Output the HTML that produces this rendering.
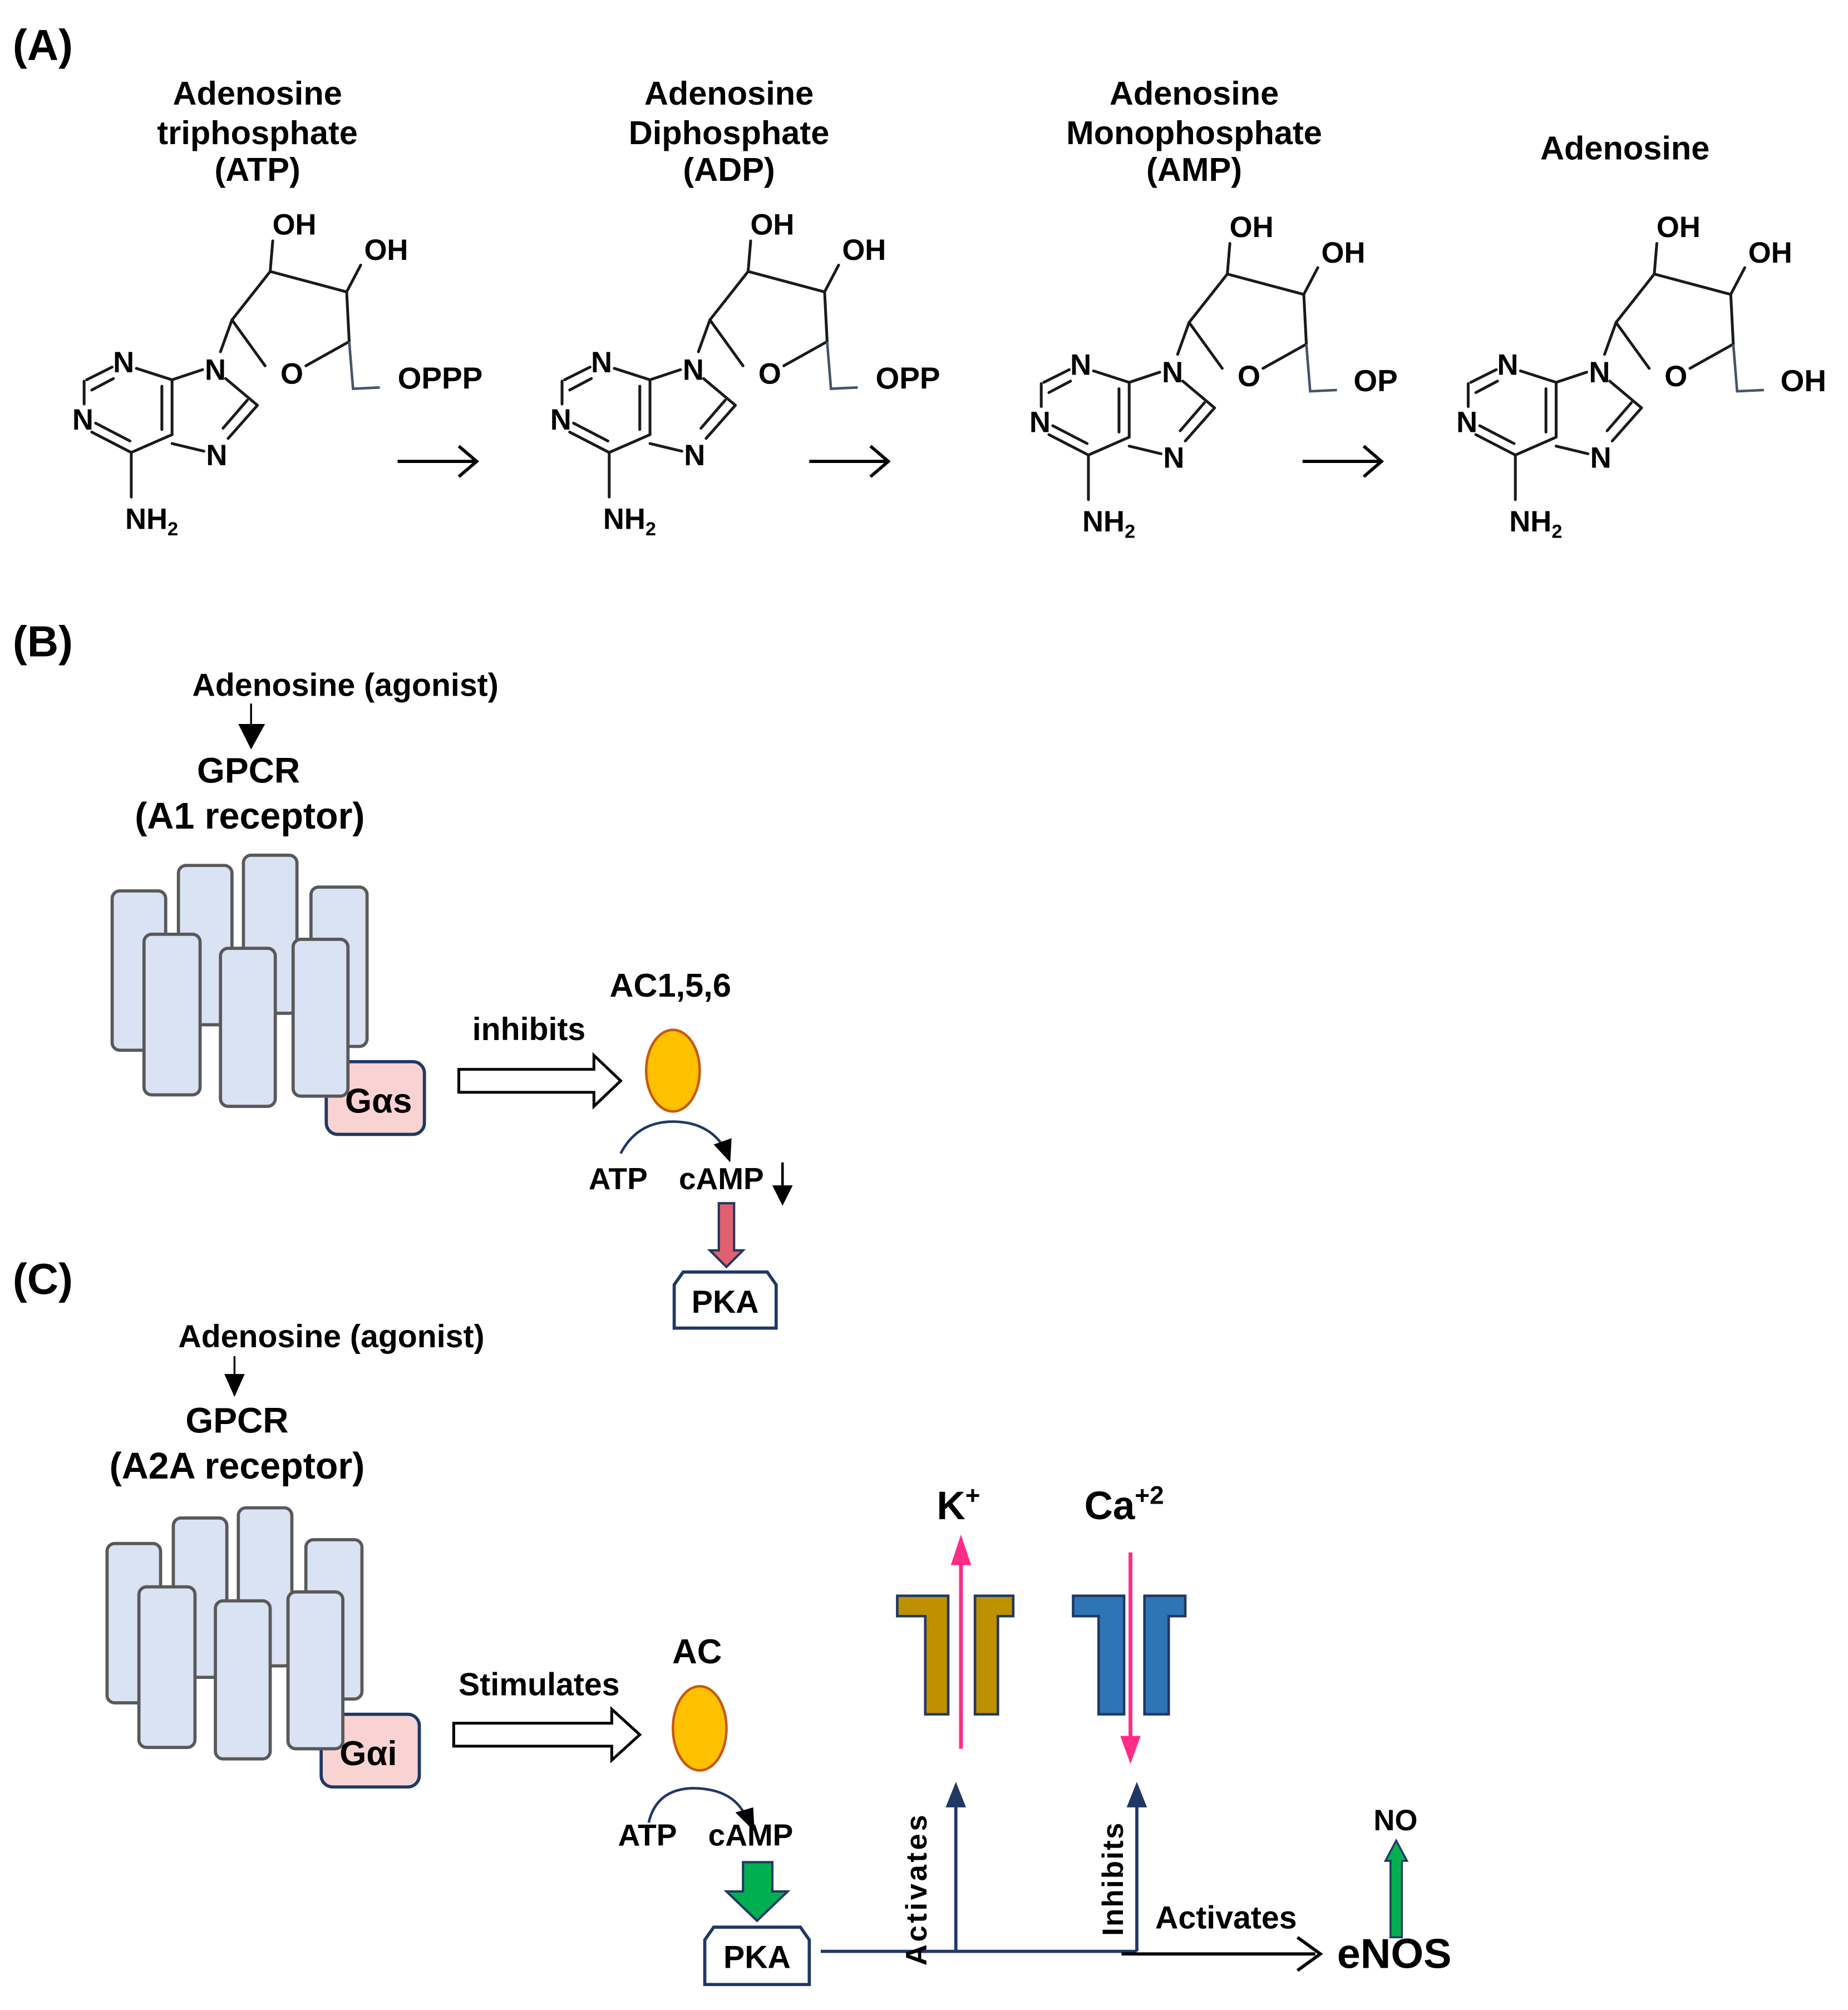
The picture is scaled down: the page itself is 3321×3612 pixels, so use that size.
<!DOCTYPE html>
<html><head><meta charset="utf-8"><style>
html,body{margin:0;padding:0;background:#fff;}
svg{display:block;}
text{font-family:"Liberation Sans",Arial,sans-serif;fill:#000;}
</style></head><body>
<svg width="3321" height="3612" viewBox="0 0 1450 1577" preserveAspectRatio="none" xmlns="http://www.w3.org/2000/svg">
<defs>
<g id="mol">
 <g stroke="#1a1a1a" stroke-width="2.2" fill="none" stroke-linecap="round">
  <line x1="68" y1="298" x2="88" y2="288"/>
  <line x1="72" y1="306" x2="89" y2="297"/>
  <line x1="107" y1="289" x2="135" y2="298"/>
  <line x1="66" y1="299" x2="66" y2="317"/>
  <line x1="72" y1="339" x2="103" y2="355"/>
  <line x1="75" y1="332" x2="102" y2="346"/>
  <line x1="103" y1="355" x2="135" y2="341"/>
  <line x1="135" y1="341" x2="135" y2="298"/>
  <line x1="127" y1="337" x2="127" y2="303"/>
  <line x1="103" y1="355" x2="103" y2="390"/>
  <line x1="135" y1="298" x2="159" y2="290"/>
  <line x1="177" y1="297" x2="202" y2="318"/>
  <line x1="202" y1="318" x2="179" y2="344"/>
  <line x1="194" y1="314" x2="175" y2="336"/>
  <line x1="160" y1="354" x2="135" y2="348"/>
  <line x1="173" y1="276" x2="182" y2="251"/>
  <line x1="182" y1="251" x2="212" y2="213"/>
  <line x1="212" y1="213" x2="214" y2="189"/>
  <line x1="212" y1="213" x2="272" y2="229"/>
  <line x1="272" y1="229" x2="283" y2="208"/>
  <line x1="272" y1="229" x2="274" y2="268"/>
  <line x1="274" y1="268" x2="240" y2="287"/>
  <line x1="182" y1="251" x2="208" y2="287"/>
 </g>
 <polyline points="274,268 277,305 298,304" stroke="#44546a" stroke-width="2" fill="none"/>
 <g font-size="23" text-anchor="middle" font-weight="bold">
  <text x="97" y="292">N</text>
  <text x="65" y="337">N</text>
  <text x="169" y="298">N</text>
  <text x="170" y="365">N</text>
  <text x="119" y="415">NH<tspan font-size="15" dy="5">2</tspan></text>
  <text x="231" y="184">OH</text>
  <text x="303" y="204">OH</text>
  <text x="229" y="301">O</text>
 </g>
</g>
<g id="rects" fill="#dae3f3" stroke="#595959" stroke-width="2.5">
 <rect x="88" y="699" width="42" height="125" rx="6"/>
 <rect x="140" y="679" width="42" height="125" rx="6"/>
 <rect x="191" y="671" width="42" height="124" rx="6"/>
 <rect x="244" y="696" width="44" height="125" rx="6"/>
 <rect x="113" y="733" width="44" height="126" rx="6"/>
 <rect x="173" y="744" width="43" height="124" rx="6"/>
 <rect x="230" y="737" width="43" height="123" rx="6"/>
</g>
</defs>

<text x="10" y="47" font-size="34" font-weight="bold">(A)</text>
<g font-size="26" font-weight="bold" text-anchor="middle">
 <text x="202" y="82">Adenosine</text><text x="202" y="113">triphosphate</text><text x="202" y="142">(ATP)</text>
 <text x="572" y="82">Adenosine</text><text x="572" y="113">Diphosphate</text><text x="572" y="142">(ADP)</text>
 <text x="937" y="82">Adenosine</text><text x="937" y="113">Monophosphate</text><text x="937" y="142">(AMP)</text>
 <text x="1275" y="125">Adenosine</text>
</g>
<use href="#mol"/>
<use href="#mol" transform="translate(375,0)"/>
<use href="#mol" transform="translate(751,2)"/>
<use href="#mol" transform="translate(1086,2)"/>
<g font-size="24" font-weight="bold">
 <text x="312" y="305">OPPP</text>
 <text x="687" y="305">OPP</text>
 <text x="1062" y="307">OP</text>
 <text x="1397" y="307">OH</text>
</g>
<g stroke="#000" stroke-width="2.5" fill="none">
 <line x1="312" y1="362" x2="373" y2="362"/><polyline points="360,350 374,362 360,374"/>
 <line x1="635" y1="362" x2="696" y2="362"/><polyline points="683,350 697,362 683,374"/>
 <line x1="1022" y1="362" x2="1083" y2="362"/><polyline points="1070,350 1084,362 1070,374"/>
</g>

<text x="10" y="515" font-size="34" font-weight="bold">(B)</text>
<text x="271" y="546" font-size="25" font-weight="bold" text-anchor="middle">Adenosine (agonist)</text>
<line x1="197" y1="552" x2="197" y2="570" stroke="#000" stroke-width="1.5"/>
<polygon points="187,568 208,568 197,588" fill="#000"/>
<text x="195" y="614" font-size="28" font-weight="bold" text-anchor="middle">GPCR</text>
<text x="196" y="650" font-size="29" font-weight="bold" text-anchor="middle">(A1 receptor)</text>
<use href="#rects"/>
<rect x="256" y="833" width="77" height="57" rx="9" fill="#f9d3d1" stroke="#1f3864" stroke-width="2.5"/>
<rect x="230" y="737" width="43" height="123" rx="6" fill="#dae3f3" stroke="#595959" stroke-width="2.5"/>
<text x="297" y="873" font-size="27" font-weight="bold" text-anchor="middle">Gαs</text>
<text x="415" y="816" font-size="25" font-weight="bold" text-anchor="middle">inhibits</text>
<polygon points="360,839 466,839 466,828 487,848 466,868 466,857 360,857" fill="#fff" stroke="#000" stroke-width="2.2"/>
<text x="526" y="782" font-size="26" font-weight="bold" text-anchor="middle">AC1,5,6</text>
<ellipse cx="528" cy="840" rx="21" ry="32" fill="#ffc000" stroke="#c55a11" stroke-width="2"/>
<path d="M487,905 Q500,880 528,880 Q555,880 568,900" fill="none" stroke="#203864" stroke-width="2"/>
<polygon points="560,898 574,893 573,912" fill="#000"/>
<text x="485" y="933" font-size="24" font-weight="bold" text-anchor="middle">ATP</text>
<text x="566" y="933" font-size="24" font-weight="bold" text-anchor="middle">cAMP</text>
<line x1="614" y1="912" x2="614" y2="932" stroke="#000" stroke-width="2"/>
<polygon points="606,930 622,930 614,946" fill="#000"/>
<polygon points="564,944 576,944 576,981 583,981 570,994 557,981 564,981" fill="#e06070" stroke="#203864" stroke-width="1.8"/>
<polygon points="529,1042 529,1008 536,998 602,998 609,1008 609,1042" fill="#fff" stroke="#203864" stroke-width="2.5"/>
<text x="569" y="1030" font-size="25" font-weight="bold" text-anchor="middle">PKA</text>

<text x="10" y="1015" font-size="34" font-weight="bold">(C)</text>
<text x="260" y="1057" font-size="25" font-weight="bold" text-anchor="middle">Adenosine (agonist)</text>
<line x1="184" y1="1064" x2="184" y2="1080" stroke="#000" stroke-width="1.5"/>
<polygon points="176,1078 192,1078 184,1096" fill="#000"/>
<text x="186" y="1124" font-size="28" font-weight="bold" text-anchor="middle">GPCR</text>
<text x="186" y="1160" font-size="29" font-weight="bold" text-anchor="middle">(A2A receptor)</text>
<g transform="translate(-4,512)">
 <use href="#rects"/>
 <rect x="256" y="833" width="77" height="57" rx="9" fill="#f9d3d1" stroke="#1f3864" stroke-width="2.5"/>
 <rect x="230" y="737" width="43" height="123" rx="6" fill="#dae3f3" stroke="#595959" stroke-width="2.5"/>
 <text x="293" y="873" font-size="27" font-weight="bold" text-anchor="middle">Gαi</text>
</g>
<text x="423" y="1330" font-size="25" font-weight="bold" text-anchor="middle">Stimulates</text>
<polygon points="356,1352 480,1352 480,1341 502,1361 480,1381 480,1370 356,1370" fill="#fff" stroke="#000" stroke-width="2.2"/>
<text x="547" y="1305" font-size="27" font-weight="bold" text-anchor="middle">AC</text>
<ellipse cx="549" cy="1356" rx="21" ry="33" fill="#ffc000" stroke="#c55a11" stroke-width="2"/>
<path d="M509,1430 Q515,1404 543,1403 Q575,1403 585,1425" fill="none" stroke="#203864" stroke-width="2"/>
<polygon points="577,1422 591,1418 592,1437" fill="#000"/>
<text x="508" y="1448" font-size="24" font-weight="bold" text-anchor="middle">ATP</text>
<text x="589" y="1448" font-size="24" font-weight="bold" text-anchor="middle">cAMP</text>
<polygon points="583,1461 606,1461 606,1484 618,1484 594,1507 570,1484 583,1484" fill="#00b050" stroke="#203864" stroke-width="1.8"/>
<polygon points="553,1557 553,1522 560,1512 628,1512 635,1522 635,1557" fill="#fff" stroke="#203864" stroke-width="2.5"/>
<text x="594" y="1544" font-size="25" font-weight="bold" text-anchor="middle">PKA</text>

<text x="752" y="1192" font-size="31" font-weight="bold" text-anchor="middle">K<tspan font-size="20" dy="-12">+</tspan></text>
<text x="882" y="1192" font-size="31" font-weight="bold" text-anchor="middle">Ca<tspan font-size="20" dy="-12">+2</tspan></text>
<g stroke="#203864" stroke-width="2">
 <polygon points="704,1252 744,1252 744,1345 726,1345 726,1268 704,1268" fill="#bf9000"/>
 <polygon points="765,1252 795,1252 795,1268 783,1268 783,1345 765,1345" fill="#bf9000"/>
 <polygon points="842,1252 882,1252 882,1345 862,1345 862,1268 842,1268" fill="#2e75b6"/>
 <polygon points="898,1252 930,1252 930,1268 917,1268 917,1345 898,1345" fill="#2e75b6"/>
</g>
<line x1="754" y1="1372" x2="754" y2="1225" stroke="#ff2d87" stroke-width="3"/>
<polygon points="746,1228 762,1228 754,1204" fill="#ff2d87"/>
<line x1="887" y1="1218" x2="887" y2="1365" stroke="#ff2d87" stroke-width="3"/>
<polygon points="879,1362 895,1362 887,1384" fill="#ff2d87"/>

<line x1="644" y1="1531" x2="892" y2="1531" stroke="#203864" stroke-width="2.5"/>
<line x1="880" y1="1533" x2="1032" y2="1533" stroke="#000" stroke-width="2.5"/>
<polyline points="1018,1520 1036,1533 1018,1546" fill="none" stroke="#000" stroke-width="2.5"/>
<line x1="750" y1="1531" x2="750" y2="1416" stroke="#203864" stroke-width="2.5"/>
<polygon points="742,1418 758,1418 750,1398" fill="#203864"/>
<line x1="892" y1="1531" x2="892" y2="1416" stroke="#203864" stroke-width="2.5"/>
<polygon points="884,1418 900,1418 892,1398" fill="#203864"/>
<text transform="translate(727,1482) rotate(-90)" font-size="23" font-weight="bold" text-anchor="middle" letter-spacing="2">Activates</text>
<text transform="translate(881,1474) rotate(-90)" font-size="23" font-weight="bold" text-anchor="middle" letter-spacing="1">Inhibits</text>
<text x="962" y="1513" font-size="25" font-weight="bold" text-anchor="middle">Activates</text>
<text x="1094" y="1544" font-size="33" font-weight="bold" text-anchor="middle">eNOS</text>
<text x="1095" y="1436" font-size="23" font-weight="bold" text-anchor="middle">NO</text>
<polygon points="1091,1520 1100,1520 1100,1460 1104,1460 1095.5,1444 1087,1460 1091,1460" fill="#00b050" stroke="#203864" stroke-width="1.5"/>
</svg>
</body></html>
